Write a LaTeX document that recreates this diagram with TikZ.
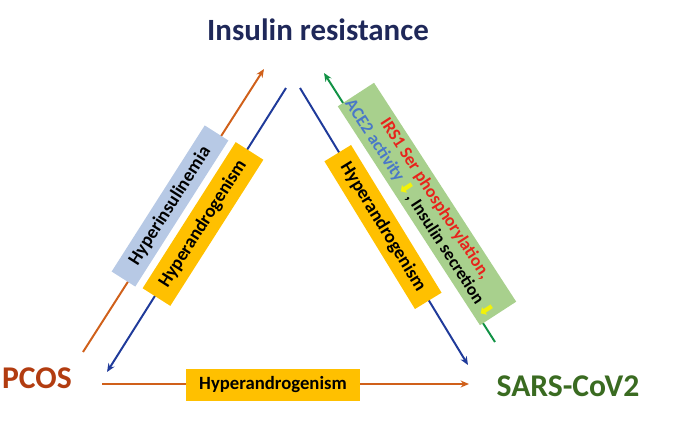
\documentclass[tikz,border=0pt]{standalone}
\usepackage{fontspec}
\setmainfont{Carlito}
\newfontfamily\symfont{DejaVu Sans}
\usetikzlibrary{arrows.meta}
\definecolor{irNavy}{HTML}{1F2859}
\definecolor{irBrown}{HTML}{B23C10}
\definecolor{irGreenText}{HTML}{3A6B21}
\definecolor{irOrange}{HTML}{D0601A}
\definecolor{irBlue}{HTML}{1F3A9A}
\definecolor{irGreen}{HTML}{119245}
\definecolor{irGold}{HTML}{FFC000}
\definecolor{irSky}{HTML}{B7C9E5}
\definecolor{irMint}{HTML}{A8D08D}
\definecolor{irRed}{HTML}{E8231C}
\definecolor{irAce}{HTML}{4A78C8}
\definecolor{irYellow}{HTML}{F2F20A}
\newcommand{\ydown}{{\color{irYellow}\symfont\char"2B07}}

\begin{document}
\begin{tikzpicture}[
  x=0.025cm, y=-0.025cm,
  term/.style={font=\fontsize{22.5}{25}\selectfont\bfseries, inner sep=0pt},
  box/.style={
    fill=irGold,
    minimum width=4.33cm,
    minimum height=0.78cm,
    inner sep=1pt,
    font=\fontsize{13.3}{14}\selectfont\bfseries
  },
  arrow/.style={-{Stealth[length=6pt,width=5pt]},line width=1.4pt}
]
  \useasboundingbox (0,0) rectangle (691,441);

  % the three terms
  \node[term,font=\fontsize{22}{25}\selectfont\bfseries,text=irNavy] (insulin) at (318,30) {Insulin resistance};
  \node[term,text=irBrown] (pcos) at (37,378) {PCOS};
  \node[term,text=irGreenText] (sars) at (568,386) {SARS-CoV2};

  % free ends of the arrows
  \coordinate (pcosUp) at (83,352);
  \coordinate (insTipL) at (264,69);
  \coordinate (insL) at (286,88);
  \coordinate (pcosDn) at (107,372);
  \coordinate (insR) at (300,88);
  \coordinate (sarsDn) at (468,365);
  \coordinate (sarsUp) at (495,342);
  \coordinate (insTipR) at (324,73);
  \coordinate (pcosR) at (102,384);
  \coordinate (sarsL) at (469,384);

  \draw[arrow,irOrange] (pcosUp)--(insTipL);
  \draw[arrow,irBlue] (insL)--(pcosDn);
  \draw[arrow,irBlue] (insR)--(sarsDn);
  \draw[arrow,irGreen] (sarsUp)--(insTipR);
  \draw[arrow,irOrange] (pcosR)--(sarsL);

  % labels on the arrows
  \node[box,fill=irSky,minimum height=0.7cm,rotate=57.5] (hyperins) at (170,206) {Hyperinsulinemia};
  \node[box,minimum height=0.82cm,rotate=57.5] (handroL) at (203,224) {Hyperandrogenism};
  \node[box,rotate=-58.5] (handroR) at (383,227) {Hyperandrogenism};
  \node[box] (handroB) at (273,385) {Hyperandrogenism};
  \node[box,fill=irMint,minimum width=6.45cm,minimum height=1.08cm,rotate=-57,
    align=center,font=\fontsize{12.5}{13.5}\selectfont\bfseries] (ace) at (427,204)
    {\textcolor{irRed}{IRS1 Ser phosphorylation,}\\
     \textcolor{irAce}{ACE2 activity}\,\ydown, Insulin secretion\,\ydown};
\end{tikzpicture}
\end{document}
